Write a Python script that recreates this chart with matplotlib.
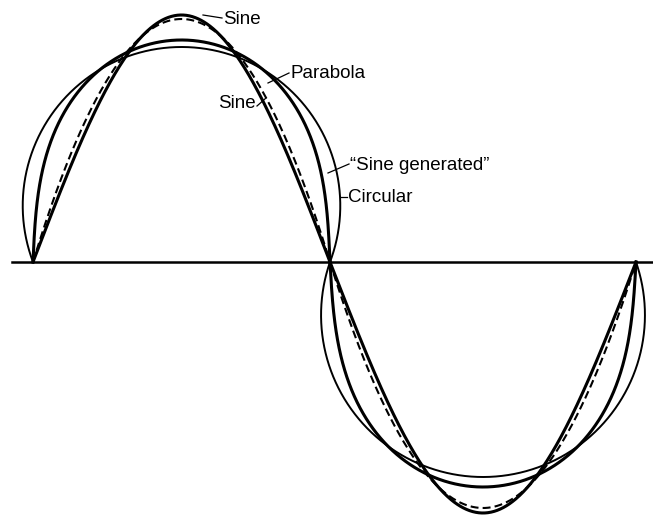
import numpy as np
import matplotlib
matplotlib.use("Agg")
import matplotlib.pyplot as plt

# points where the meander crosses the axis (drawing units, x)
crossings = [33, 330, 636]
# lobe heights for each curve: first lobe above the axis, second below
sine_heights = [247, -251]
parabola_heights = [243, -246]
sine_gen_heights = [222, -225]
circle_heights = [215, -215]

labels = ["Sine", "Parabola", "Sine", "\u201cSine generated\u201d", "Circular"]


def sine_lobe(x0, x1, h):
    t = np.linspace(0, 1, 400)
    return x0 + t * (x1 - x0), h * np.sin(np.pi * t)


def parabola_lobe(x0, x1, h):
    t = np.linspace(0, 1, 400)
    return x0 + t * (x1 - x0), 4 * h * t * (1 - t)


def circle_lobe(x0, x1, h):
    a = (x1 - x0) / 2
    hh = abs(h)
    r = (a ** 2 + hh ** 2) / (2 * hh)
    c = hh - r
    p0 = np.arctan2(-c, -a) + 2 * np.pi
    p1 = np.arctan2(-c, a)
    p = np.linspace(p0, p1, 600)
    return x0 + a + r * np.cos(p), np.sign(h) * (c + r * np.sin(p))


def sine_gen_raw(w):
    phi = np.linspace(0, np.pi, 2000)
    th = w * np.cos(phi)
    dp = phi[1] - phi[0]
    x = np.concatenate([[0], np.cumsum((np.cos(th[1:]) + np.cos(th[:-1])) / 2 * dp)])
    y = np.concatenate([[0], np.cumsum((np.sin(th[1:]) + np.sin(th[:-1])) / 2 * dp)])
    return x, y


def sine_gen_lobe(x0, x1, h):
    # pick the deflection angle so the lobe has the measured height
    target = abs(h) / (x1 - x0)
    lo, hi = 0.3, 2.3
    for _ in range(60):
        w = (lo + hi) / 2
        x, y = sine_gen_raw(w)
        if y.max() / x[-1] < target:
            lo = w
        else:
            hi = w
    x, y = sine_gen_raw(w)
    s = (x1 - x0) / x[-1]
    return x0 + x * s, np.sign(h) * y * s


fig = plt.figure(figsize=(6.53, 5.15), dpi=100)
ax = fig.add_axes([0, 0, 1, 1])
ax.set_xlim(0, 653)
ax.set_ylim(-253, 262)
ax.axis("off")

for i in range(2):
    x0, x1 = crossings[i], crossings[i + 1]
    xs, ys = circle_lobe(x0, x1, circle_heights[i])
    ax.plot(xs, ys, color="black", lw=1.4)
    xs, ys = sine_gen_lobe(x0, x1, sine_gen_heights[i])
    ax.plot(xs, ys, color="black", lw=2.2)
    xs, ys = sine_lobe(x0, x1, sine_heights[i])
    ax.plot(xs, ys, color="black", lw=2.2)
    xs, ys = parabola_lobe(x0, x1, parabola_heights[i])
    ax.plot(xs, ys, color="black", lw=1.5, dashes=(3.8, 2))

# axis line
ax.plot([12, 653], [0, 0], color="black", lw=1.8)

# labels with leader lines (y measured from the top edge, like the scan)
fs = 13.5
font = "Liberation Sans"


def py(v):
    return 262 - v


ax.plot([203, 222], [py(15), py(18)], color="black", lw=0.9)
ax.text(223, py(19), labels[0], ha="left", va="center", fontsize=fs, family=font)

ax.plot([268, 289], [py(83), py(73)], color="black", lw=0.9)
ax.text(290, py(74), labels[1], ha="left", va="center", fontsize=fs, family=font)

ax.plot([266, 257], [py(98), py(106)], color="black", lw=0.9)
ax.text(256, py(104), labels[2], ha="right", va="center", fontsize=fs, family=font)

ax.plot([328, 349], [py(173), py(164)], color="black", lw=0.9)
ax.text(350, py(165), labels[3], ha="left", va="center", fontsize=fs, family=font)

ax.plot([341, 347], [py(197), py(197)], color="black", lw=0.9)
ax.text(348, py(197), labels[4], ha="left", va="center", fontsize=fs, family=font)

fig.savefig("out.png", dpi=100)
